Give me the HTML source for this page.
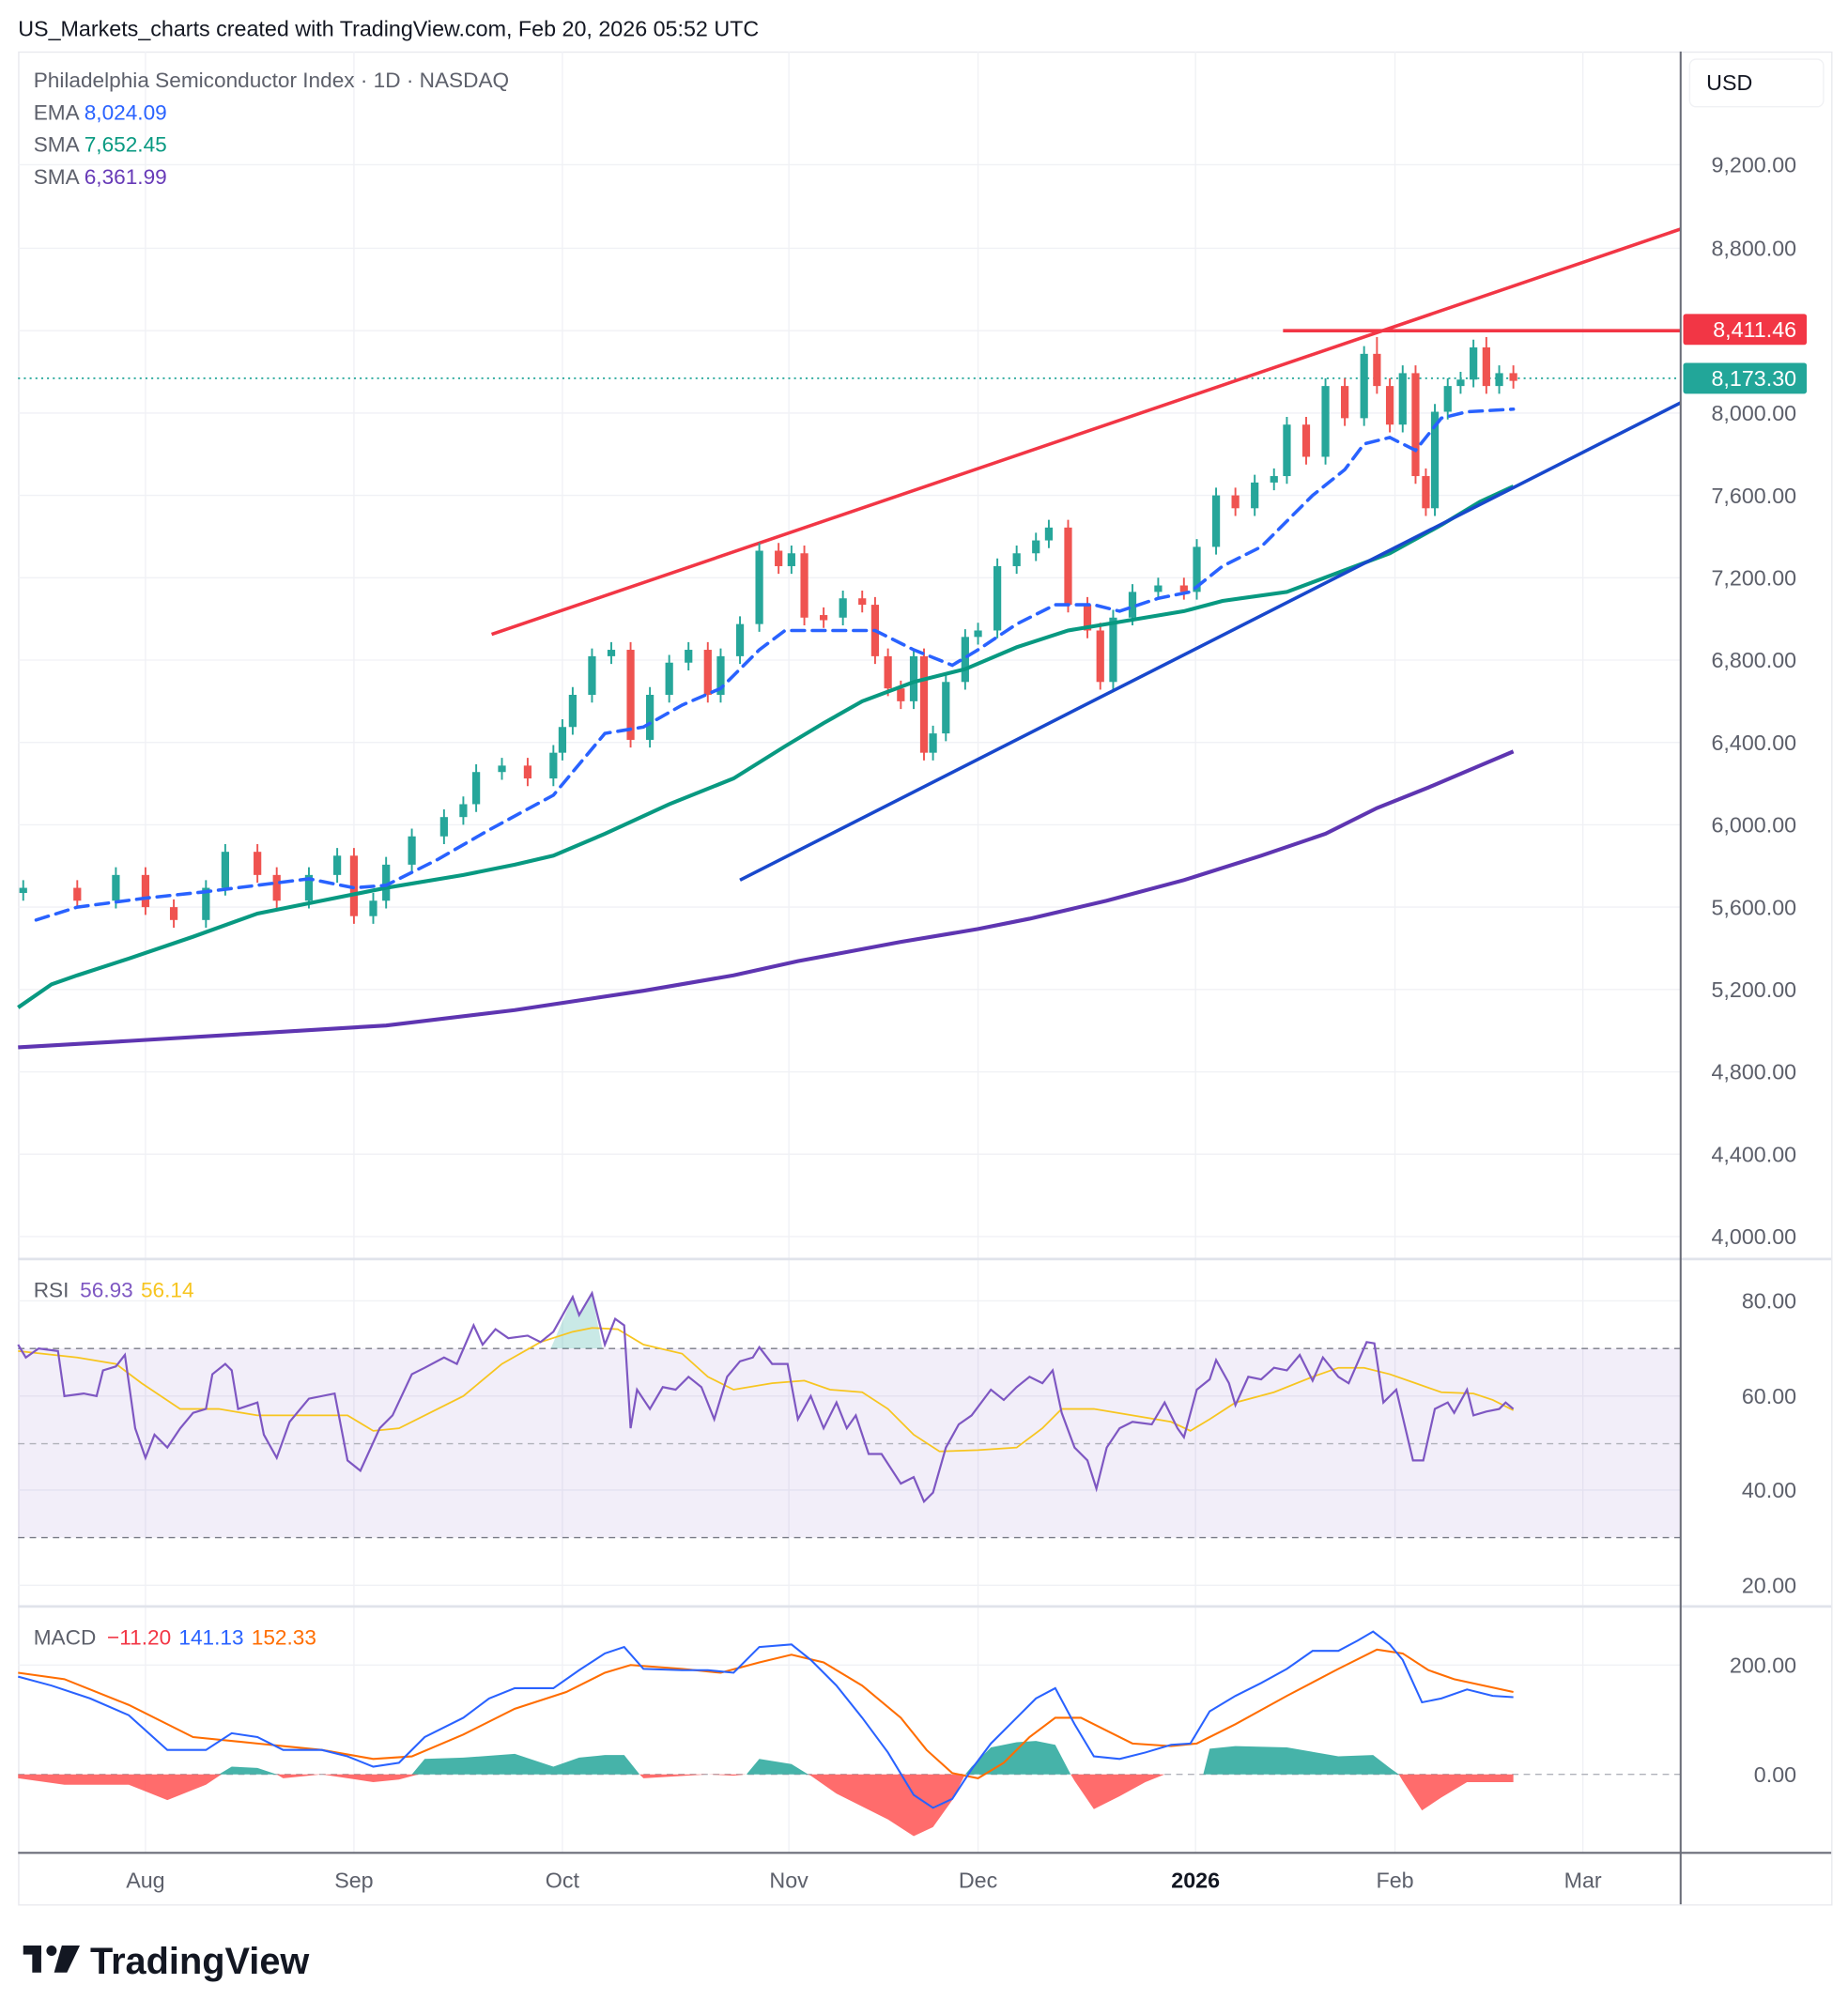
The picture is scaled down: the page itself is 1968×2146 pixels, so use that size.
<!DOCTYPE html>
<html><head><meta charset="utf-8"><style>
html,body{margin:0;padding:0;background:#fff;}
svg{display:block;font-family:"Liberation Sans",sans-serif;}
</style></head><body>
<svg xmlns="http://www.w3.org/2000/svg" width="1968" height="2146" viewBox="0 0 1436 1566">
<rect width="1436" height="1566" fill="#fff"/>
<text x="14" y="28" font-size="17" fill="#131722">US_Markets_charts created with TradingView.com, Feb 20, 2026 05:52 UTC</text>
<rect x="14.5" y="40.5" width="1409" height="1440" fill="none" stroke="#e8e9ee"/>
<g stroke="#f0f1f5" stroke-width="1">
<path d="M14 128H1306M14 193H1306M14 257H1306M14 321H1306M14 385H1306M14 449H1306M14 513H1306M14 577H1306M14 641H1306M14 705H1306M14 769H1306M14 833H1306M14 897H1306M14 961H1306M14 1011H1306M14 1085H1306M14 1158H1306M14 1232H1306M14 1294H1306"/>
<path d="M113 40V1440M275 40V1440M437 40V1440M613 40V1440M760 40V1440M929 40V1440M1084 40V1440M1230 40V1440"/>
</g>
<rect x="14" y="1048" width="1292" height="147" fill="#7e57c2" fill-opacity="0.1"/>
<line x1="14" y1="1048" x2="1306" y2="1048" stroke="#787b86" stroke-dasharray="5 4"/>
<line x1="14" y1="1122" x2="1306" y2="1122" stroke="#b0b2ba" stroke-dasharray="5 4"/>
<line x1="14" y1="1195" x2="1306" y2="1195" stroke="#787b86" stroke-dasharray="5 4"/>
<line x1="14" y1="1379" x2="1306" y2="1379" stroke="#b0b2ba" stroke-dasharray="5 4"/>

<line x1="14" y1="294" x2="1306" y2="294" stroke="#22a699" stroke-width="1.3" stroke-dasharray="1.5 3"/>
<line x1="382" y1="493" x2="1306" y2="178" stroke="#f23645" stroke-width="2.6"/>
<line x1="997" y1="257" x2="1306" y2="257" stroke="#f23645" stroke-width="2.6"/>

<!-- candles green -->
<g fill="#26a69a" stroke="#26a69a" stroke-width="1.4">
<path fill="none" d="M18 684V700M90 674V706M160 684V721M175 656V696M240 674V706M262 659V686M290 694V718M300 666V706M320 644V678M345 629V656M360 619V641M370 594V631M390 589V606M430 579V611M437 559V591M445 534V571M460 504V546M475 499V516M505 534V581M520 509V546M535 499V521M560 504V546M575 479V516M590 422V491M615 424V446M655 459V486M710 504V551M725 564V591M735 524V576M750 489V536M760 484V501M775 434V496M790 424V446M805 414V436M815 404V426M865 474V536M880 454V486M900 449V466M930 419V466M945 379V431M975 369V401M990 364V381M1000 324V376M1030 294V361M1060 269V331M1090 284V336M1115 314V401M1125 294V326M1135 289V306M1145 264V301M1165 284V306"/>
<g stroke="none">
<rect x="15" y="690" width="6" height="4"/><rect x="87" y="680" width="6" height="20"/><rect x="157" y="690" width="6" height="25"/><rect x="172" y="662" width="6" height="28"/><rect x="237" y="680" width="6" height="20"/><rect x="259" y="665" width="6" height="15"/><rect x="287" y="700" width="6" height="12"/><rect x="297" y="672" width="6" height="28"/><rect x="317" y="650" width="6" height="22"/><rect x="342" y="635" width="6" height="15"/><rect x="357" y="625" width="6" height="10"/><rect x="367" y="600" width="6" height="25"/><rect x="387" y="595" width="6" height="5"/><rect x="427" y="585" width="6" height="20"/><rect x="434" y="565" width="6" height="20"/><rect x="442" y="540" width="6" height="25"/><rect x="457" y="510" width="6" height="30"/><rect x="472" y="505" width="6" height="5"/><rect x="502" y="540" width="6" height="35"/><rect x="517" y="515" width="6" height="25"/><rect x="532" y="505" width="6" height="10"/><rect x="557" y="510" width="6" height="30"/><rect x="572" y="485" width="6" height="25"/><rect x="587" y="428" width="6" height="57"/><rect x="612" y="430" width="6" height="10"/><rect x="652" y="465" width="6" height="15"/><rect x="707" y="510" width="6" height="35"/><rect x="722" y="570" width="6" height="15"/><rect x="732" y="530" width="6" height="40"/><rect x="747" y="495" width="6" height="35"/><rect x="757" y="490" width="6" height="5"/><rect x="772" y="440" width="6" height="50"/><rect x="787" y="430" width="6" height="10"/><rect x="802" y="420" width="6" height="10"/><rect x="812" y="410" width="6" height="10"/><rect x="862" y="480" width="6" height="50"/><rect x="877" y="460" width="6" height="20"/><rect x="897" y="455" width="6" height="5"/><rect x="927" y="425" width="6" height="35"/><rect x="942" y="385" width="6" height="40"/><rect x="972" y="375" width="6" height="20"/><rect x="987" y="370" width="6" height="5"/><rect x="997" y="330" width="6" height="40"/><rect x="1027" y="300" width="6" height="55"/><rect x="1057" y="275" width="6" height="50"/><rect x="1087" y="290" width="6" height="40"/><rect x="1112" y="320" width="6" height="75"/><rect x="1122" y="300" width="6" height="20"/><rect x="1132" y="295" width="6" height="5"/><rect x="1142" y="270" width="6" height="25"/><rect x="1162" y="290" width="6" height="10"/>
</g></g>
<!-- candles red -->
<g fill="#ef5350" stroke="#ef5350" stroke-width="1.4">
<path fill="none" d="M60 684V706M113 674V711M135 699V721M200 656V686M215 674V706M275 659V718M410 589V611M490 499V581M550 499V546M605 422V446M625 424V486M640 472V488M670 459V476M680 464V516M690 504V541M700 529V551M718 504V591M830 404V476M845 464V496M855 484V536M920 449V466M960 379V401M1015 324V361M1045 294V331M1070 262V306M1080 294V336M1100 284V376M1108 364V401M1155 262V306M1176 284V302"/>
<g stroke="none">
<rect x="57" y="690" width="6" height="10"/><rect x="110" y="680" width="6" height="25"/><rect x="132" y="705" width="6" height="10"/><rect x="197" y="662" width="6" height="18"/><rect x="212" y="680" width="6" height="20"/><rect x="272" y="665" width="6" height="47"/><rect x="407" y="595" width="6" height="10"/><rect x="487" y="505" width="6" height="70"/><rect x="547" y="505" width="6" height="35"/><rect x="602" y="428" width="6" height="12"/><rect x="622" y="430" width="6" height="50"/><rect x="637" y="478" width="6" height="4"/><rect x="667" y="465" width="6" height="5"/><rect x="677" y="470" width="6" height="40"/><rect x="687" y="510" width="6" height="25"/><rect x="697" y="535" width="6" height="10"/><rect x="715" y="510" width="6" height="75"/><rect x="827" y="410" width="6" height="60"/><rect x="842" y="470" width="6" height="20"/><rect x="852" y="490" width="6" height="40"/><rect x="917" y="455" width="6" height="5"/><rect x="957" y="385" width="6" height="10"/><rect x="1012" y="330" width="6" height="25"/><rect x="1042" y="300" width="6" height="25"/><rect x="1067" y="275" width="6" height="25"/><rect x="1077" y="300" width="6" height="30"/><rect x="1097" y="290" width="6" height="80"/><rect x="1105" y="370" width="6" height="25"/><rect x="1152" y="270" width="6" height="30"/><rect x="1173" y="290" width="6" height="6"/>
</g></g>

<polyline fill="none" stroke="#5e35b1" stroke-width="3" points="14,814 100,809 200,803 300,797 400,785 500,770 570,758 620,747 700,732 760,722 800,714 860,700 920,684 980,665 1030,648 1070,628 1110,612 1150,595 1176,584"/>
<polyline fill="none" stroke="#089981" stroke-width="3" points="14,783 40,765 60,758 100,745 150,728 200,710 250,700 300,690 360,680 400,672 430,665 470,648 520,625 570,605 610,580 640,562 670,545 710,530 750,520 790,503 830,490 860,485 890,480 920,475 950,467 1000,460 1040,445 1080,430 1120,408 1150,390 1176,378"/>
<polyline fill="none" stroke="#2962ff" stroke-width="2.6" stroke-dasharray="10 6" stroke-linecap="round" points="28,715 60,705 113,698 160,693 200,688 240,683 275,690 300,688 340,668 380,645 430,618 470,570 500,565 530,548 560,535 590,505 610,490 640,490 680,490 710,505 740,517 760,505 790,485 820,470 850,470 870,475 900,465 925,460 950,440 980,425 1000,405 1020,385 1045,365 1060,345 1080,340 1100,350 1120,325 1140,320 1176,318"/>
<line x1="575" y1="684" x2="1306" y2="313" stroke="#1848cc" stroke-width="2.6"/>

<!-- RSI -->
<polygon points="428,1048 445,1008 450,1022 460,1005 468,1048" fill="#26a69a" fill-opacity="0.25"/>
<polyline fill="none" stroke="#f7c520" stroke-width="1.3" points="14,1050 60,1055 90,1060 110,1075 140,1095 170,1095 200,1100 240,1100 270,1100 290,1112 310,1110 330,1100 360,1085 390,1060 420,1043 445,1035 460,1032 480,1033 500,1045 530,1052 550,1070 570,1080 600,1075 625,1073 645,1080 670,1082 690,1095 710,1115 730,1128 760,1127 790,1125 810,1110 825,1095 850,1095 880,1100 910,1105 925,1112 940,1103 960,1090 990,1082 1020,1070 1040,1063 1060,1063 1080,1068 1100,1075 1120,1082 1145,1083 1160,1088 1176,1096"/>
<polyline fill="none" stroke="#7e57c2" stroke-width="1.6" points="14,1045 20,1055 30,1048 45,1050 50,1085 65,1083 75,1085 80,1065 90,1062 97,1053 105,1110 113,1133 120,1115 130,1125 140,1110 150,1098 160,1095 165,1068 175,1060 180,1065 185,1095 200,1090 205,1115 215,1133 225,1105 240,1087 260,1083 270,1135 280,1143 295,1110 305,1100 320,1068 330,1063 345,1055 355,1060 368,1030 375,1045 385,1033 395,1040 410,1038 420,1043 430,1035 445,1008 450,1022 460,1005 470,1045 478,1025 485,1030 490,1110 495,1080 505,1095 515,1078 525,1080 535,1070 545,1078 555,1103 565,1070 575,1058 585,1055 590,1047 600,1060 612,1060 620,1103 630,1085 640,1110 650,1090 658,1110 665,1100 675,1130 685,1130 700,1153 710,1148 718,1167 725,1160 735,1125 745,1107 755,1100 770,1080 780,1088 790,1078 800,1070 810,1075 818,1065 825,1098 835,1125 845,1135 852,1157 860,1125 870,1110 880,1105 895,1107 905,1090 915,1110 920,1117 930,1080 940,1072 945,1057 955,1075 960,1092 970,1070 980,1072 990,1063 1000,1065 1010,1053 1020,1073 1028,1055 1040,1070 1048,1075 1062,1043 1068,1044 1075,1090 1085,1080 1098,1135 1106,1135 1115,1095 1125,1090 1130,1098 1140,1080 1145,1100 1155,1097 1165,1095 1170,1090 1176,1095"/>

<!-- MACD histogram -->
<polygon fill="#26a69a" fill-opacity="0.85" points="170,1379 180,1373 200,1374 215,1379 320,1379 330,1367 360,1366 400,1363 430,1373 450,1366 470,1364 485,1364 497,1379 580,1379 590,1367 615,1371 628,1379 750,1379 755,1373 770,1358 790,1354 805,1353 820,1356 832,1379 935,1379 940,1359 960,1357 1000,1358 1040,1365 1067,1364 1080,1374 1087,1379"/>
<polygon fill="#ff5252" fill-opacity="0.85" points="14,1379 14,1382 50,1387 100,1387 130,1399 160,1387 172,1379 215,1379 220,1382 250,1379 290,1385 310,1383 325,1379 497,1379 500,1382 550,1379 570,1380 580,1379 628,1379 630,1380 650,1394 670,1404 690,1414 710,1427 725,1420 740,1399 750,1379 832,1379 835,1384 850,1406 870,1396 890,1385 905,1379 1087,1379 1090,1384 1105,1407 1120,1397 1140,1385 1176,1385 1176,1379"/>
<polyline fill="none" stroke="#ff6d00" stroke-width="1.5" points="14,1300 50,1305 100,1325 150,1350 200,1355 250,1360 290,1367 320,1365 360,1348 400,1328 440,1315 470,1300 490,1294 530,1297 560,1300 590,1292 615,1286 640,1292 670,1310 700,1335 720,1360 740,1378 760,1382 780,1370 800,1350 820,1335 840,1335 860,1345 880,1355 910,1357 930,1355 960,1340 1000,1318 1040,1297 1070,1282 1090,1285 1110,1298 1130,1305 1176,1315"/>
<polyline fill="none" stroke="#2962ff" stroke-width="1.5" points="14,1303 40,1310 70,1320 100,1333 130,1360 160,1360 180,1347 200,1350 220,1360 250,1360 270,1365 290,1373 310,1370 330,1350 360,1335 380,1320 400,1312 430,1312 450,1298 470,1285 485,1280 500,1297 530,1298 550,1298 570,1300 590,1280 615,1278 630,1290 650,1310 670,1335 690,1362 710,1395 725,1405 740,1398 755,1375 770,1355 790,1335 805,1320 820,1312 835,1340 850,1365 870,1367 890,1362 910,1356 925,1355 940,1330 960,1318 980,1308 1000,1297 1020,1283 1040,1283 1055,1275 1067,1268 1080,1278 1090,1290 1105,1323 1120,1320 1140,1313 1160,1318 1176,1319"/>

<line x1="14" y1="978.5" x2="1423" y2="978.5" stroke="#e0e3eb" stroke-width="2"/>
<line x1="14" y1="1248.5" x2="1423" y2="1248.5" stroke="#e0e3eb" stroke-width="2"/>
<line x1="14" y1="1440" x2="1423" y2="1440" stroke="#6a6d78" stroke-width="1.5"/>
<line x1="1306" y1="40" x2="1306" y2="1480" stroke="#6a6d78" stroke-width="1.5"/>
<rect x="1313" y="46" width="104" height="37" rx="5" fill="#fff" stroke="#f0f1f4"/>
<text x="1326" y="70" font-size="17" fill="#131722">USD</text>
<g font-size="17" fill="#5d606b" text-anchor="end">
<text x="1396" y="134">9,200.00</text><text x="1396" y="199">8,800.00</text><text x="1396" y="327">8,000.00</text><text x="1396" y="391">7,600.00</text><text x="1396" y="455">7,200.00</text><text x="1396" y="519">6,800.00</text><text x="1396" y="583">6,400.00</text><text x="1396" y="647">6,000.00</text><text x="1396" y="711">5,600.00</text><text x="1396" y="775">5,200.00</text><text x="1396" y="839">4,800.00</text><text x="1396" y="903">4,400.00</text><text x="1396" y="967">4,000.00</text>
<text x="1396" y="1017">80.00</text><text x="1396" y="1091">60.00</text><text x="1396" y="1164">40.00</text><text x="1396" y="1238">20.00</text>
<text x="1396" y="1300">200.00</text><text x="1396" y="1385">0.00</text>
</g>
<rect x="1308" y="244" width="96" height="24" rx="2" fill="#f23645"/>
<text x="1396" y="262" font-size="17" fill="#fff" text-anchor="end">8,411.46</text>
<rect x="1308" y="282" width="96" height="24" rx="2" fill="#22a699"/>
<text x="1396" y="300" font-size="17" fill="#fff" text-anchor="end">8,173.30</text>
<g font-size="16.5">
<text x="26" y="68" fill="#5d606b">Philadelphia Semiconductor Index · 1D · NASDAQ</text>
<text x="26" y="93" fill="#5d606b">EMA <tspan fill="#2962ff">8,024.09</tspan></text>
<text x="26" y="118" fill="#5d606b">SMA <tspan fill="#089981">7,652.45</tspan></text>
<text x="26" y="143" fill="#5d606b">SMA <tspan fill="#673ab7">6,361.99</tspan></text>
<text x="26" y="1008" fill="#5d606b">RSI <tspan fill="#7e57c2" dx="4">56.93</tspan><tspan fill="#f7c520" dx="6">56.14</tspan></text>
<text x="26" y="1278" fill="#5d606b">MACD <tspan fill="#f23645" dx="4">−11.20</tspan><tspan fill="#2962ff" dx="6">141.13</tspan><tspan fill="#ff6d00" dx="6">152.33</tspan></text>
</g>
<g font-size="17" fill="#5d606b" text-anchor="middle">
<text x="113" y="1467">Aug</text><text x="275" y="1467">Sep</text><text x="437" y="1467">Oct</text>
<text x="613" y="1467">Nov</text><text x="760" y="1467">Dec</text>
<text x="929" y="1467" font-weight="bold" fill="#131722">2026</text>
<text x="1084" y="1467">Feb</text><text x="1230" y="1467">Mar</text>
</g>
<g fill="#131722">
<rect x="18" y="1512" width="14" height="7"/><rect x="25" y="1512" width="7" height="21"/>
<circle cx="40" cy="1516" r="4"/>
<polygon points="48,1512 62,1512 52,1533 42,1533"/>
<text x="70" y="1534" font-size="29" font-weight="bold">TradingView</text>
</g>
</svg>
</body></html>
